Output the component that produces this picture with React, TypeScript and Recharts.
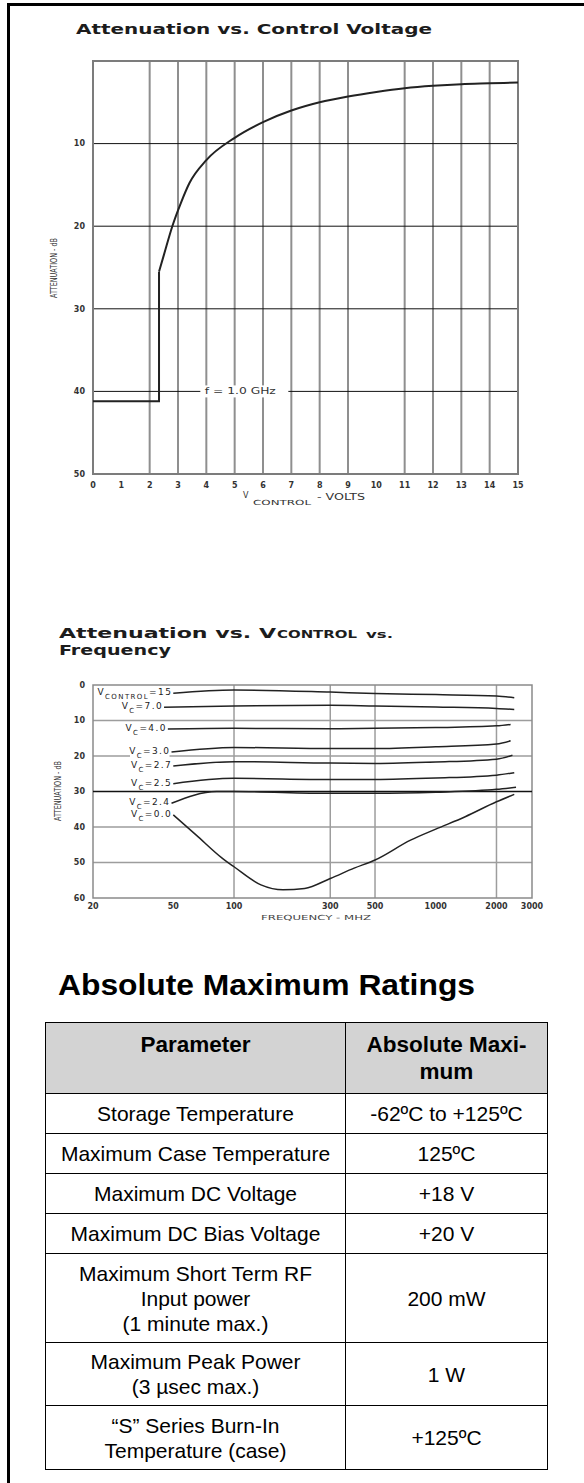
import React from 'react';
import { LineChart, Line, XAxis, YAxis, CartesianGrid, ReferenceLine, ReferenceArea, ReferenceDot } from 'recharts';

// ---------- Chart 1: Attenuation vs. Control Voltage ----------
const voltTicks = [0, 1, 2, 3, 4, 5, 6, 7, 8, 9, 10, 11, 12, 13, 14, 15];
const voltGridLines = [2, 3, 4, 5, 6, 7, 8, 9, 11, 12, 13, 14];
const atten1Ticks = [10, 20, 30, 40, 50];
const atten1GridLines = [10, 20, 30, 40];
const stepVolts = [0, 2.33, 2.33];
const stepAtten = [41.2, 41.2, 25.5];
const curveVolts = [2.33, 2.5, 2.8, 3.1, 3.4, 4, 5, 6, 7, 8, 9, 10, 11, 12, 13, 14, 15];
const curveAtten = [25.5, 23.5, 20, 17.2, 14.8, 12, 9.3, 7.4, 6, 5, 4.3, 3.75, 3.3, 3.0, 2.8, 2.7, 2.6];
const annotVolt = 5.2;
const annotAtten = 40;
const annotText = 'f = 1.0 GHz';

// ---------- Chart 2: Attenuation vs. VCONTROL vs. Frequency ----------
const freqTicks = [20, 50, 100, 300, 500, 1000, 2000, 3000];
const freqGridLines = [100, 300, 500, 2000];
const atten2Ticks = [0, 10, 20, 30, 40, 50, 60];
const atten2GridLines = [10, 20, 40, 50];
const atten2DarkLine = 30;

const vc15Freq = [50, 100, 300, 500, 1000, 2000, 2450];
const vc15Atten = [2.3, 1.4, 2.0, 2.4, 2.7, 3.1, 3.6];
const vc70Freq = [45, 100, 300, 500, 1000, 2000, 2450];
const vc70Atten = [6.3, 5.9, 5.7, 5.9, 6.2, 6.6, 6.9];
const vc40Freq = [47, 100, 300, 500, 1000, 2000, 2350];
const vc40Atten = [12.4, 12.2, 12.3, 12.2, 12.0, 11.5, 11.1];
const vc30Freq = [49, 100, 300, 500, 1000, 2000, 2350];
const vc30Atten = [18.9, 17.6, 17.9, 17.9, 17.4, 16.6, 15.7];
const vc27Freq = [50, 100, 300, 500, 1000, 2000, 2400];
const vc27Atten = [22.8, 21.6, 22.0, 22.1, 21.7, 20.9, 19.8];
const vc25Freq = [50, 100, 300, 500, 1000, 2000, 2450];
const vc25Atten = [27.8, 26.3, 26.6, 26.6, 26.2, 25.4, 24.7];
const vc24Freq = [49, 82, 100, 300, 500, 1000, 2000, 2500];
const vc24Atten = [33.3, 30.0, 30.0, 30.5, 30.5, 30.2, 29.4, 28.8];
const vc00Freq = [50, 65, 87, 100, 136, 175, 224, 300, 394, 500, 750, 1000, 1400, 2000, 2450];
const vc00Atten = [36.6, 42.3, 48.7, 51.2, 56.3, 57.7, 57.3, 54.5, 51.6, 49.3, 43.7, 40.6, 37.1, 32.9, 30.8];

const vcSubs = ['CONTROL', 'C', 'C', 'C', 'C', 'C', 'C', 'C'];
const vcValues = ['=15', '=7.0', '=4.0', '=3.0', '=2.7', '=2.5', '=2.4', '=0.0'];

// ---------- Table ----------
const tableHeaders = ['Parameter', 'Absolute Maxi-\nmum'];
const tableParams = [
  'Storage Temperature',
  'Maximum Case Temperature',
  'Maximum DC Voltage',
  'Maximum DC Bias Voltage',
  'Maximum Short Term RF\nInput power\n(1 minute max.)',
  'Maximum Peak Power\n(3 µsec max.)',
  '\u201CS\u201D Series Burn-In\nTemperature (case)',
];
const tableValues = ['-62ºC to +125ºC', '125ºC', '+18 V', '+20 V', '200 mW', '1 W', '+125ºC'];
const tableRowHeights = [40, 40, 40, 40, 89, 63, 64];

const zip = (xs: number[], ys: number[], kx: string) => xs.map((x, i) => ({ [kx]: x, a: ys[i] }));

const stepData = zip(stepVolts, stepAtten, 'v');
const curveData = zip(curveVolts, curveAtten, 'v');

const series2 = [
  zip(vc15Freq, vc15Atten, 'f'),
  zip(vc70Freq, vc70Atten, 'f'),
  zip(vc40Freq, vc40Atten, 'f'),
  zip(vc30Freq, vc30Atten, 'f'),
  zip(vc27Freq, vc27Atten, 'f'),
  zip(vc25Freq, vc25Atten, 'f'),
  zip(vc24Freq, vc24Atten, 'f'),
  zip(vc00Freq, vc00Atten, 'f'),
];

const tickStyle = { fontSize: 8, fontWeight: 'bold' as const, fill: '#333', fontFamily: 'DejaVu Sans' };

const makeLabelDot = (sub: string, val: string) => (props: any) => {
  const { cx, cy, index } = props;
  if (index !== 0 || cx == null || cy == null) return <g key={`d-${index}`} />;
  const w = 6.5 + sub.length * 5.8 + val.length * 6.8;
  return (
    <g key={`lbl-${index}`}>
      <rect x={cx - w - 2} y={cy - 6} width={w} height={12} fill="#fff" />
      <text x={cx - 1} y={cy + 2} textAnchor="end" fontSize={9} fontFamily="DejaVu Sans" fill="#222" letterSpacing={1.4}>
        <tspan>V</tspan>
        <tspan fontSize={7} dy={4}>{sub}</tspan>
        <tspan dy={-4}>{val}</tspan>
      </text>
    </g>
  );
};

function Chart1() {
  return (
    <div style={{ position: 'absolute', left: 0, top: 0 }}>
      <LineChart width={584} height={520} margin={{ top: 61, right: 66, bottom: 26, left: 63 }}>
        <XAxis type="number" dataKey="v" domain={[0, 15]} ticks={voltTicks} interval={0} tickLine={false} axisLine={false} height={20} tick={tickStyle} />
        <YAxis type="number" dataKey="a" domain={[0, 50]} reversed ticks={atten1Ticks} interval={0} tickLine={false} axisLine={false} width={30} tick={tickStyle} />
        <CartesianGrid horizontal={false} verticalValues={voltGridLines} stroke="#8f8f8f" strokeWidth={2} />
        <CartesianGrid vertical={false} horizontalValues={atten1GridLines} stroke="#111" strokeWidth={1} />
        <ReferenceArea x1={0} x2={15} y1={0} y2={50} fill="none" fillOpacity={0} stroke="#7c7c7c" strokeWidth={2} />
        <ReferenceDot
          x={annotVolt}
          y={annotAtten}
          shape={(p: any) => (
            <g>
              <rect x={p.cx - 40} y={p.cy - 6} width={88} height={12} fill="#fff" />
              <text x={p.cx} y={p.cy + 3} textAnchor="middle" fontSize={8} fontFamily="DejaVu Sans" fill="#333" textLength={71} lengthAdjust="spacingAndGlyphs">{annotText}</text>
            </g>
          )}
        />
        <Line data={stepData} dataKey="a" type="linear" stroke="#222" strokeWidth={2} dot={false} isAnimationActive={false} />
        <Line data={curveData} dataKey="a" type="monotone" stroke="#222" strokeWidth={2} dot={false} isAnimationActive={false} />
      </LineChart>
    </div>
  );
}

function Chart2() {
  return (
    <div style={{ position: 'absolute', left: 0, top: 600 }}>
      <LineChart width={584} height={340} margin={{ top: 85, right: 52, bottom: 22, left: 63 }}>
        <XAxis type="number" dataKey="f" scale="log" domain={[20, 3000]} ticks={freqTicks} interval={0} tickLine={false} tickSize={3} axisLine={false} height={20} tick={tickStyle} />
        <YAxis type="number" dataKey="a" domain={[0, 60]} reversed ticks={atten2Ticks} interval={0} tickLine={false} axisLine={false} width={30} tick={tickStyle} />
        <CartesianGrid verticalValues={freqGridLines} horizontalValues={atten2GridLines} stroke="#9d9d9d" strokeWidth={1.5} />
        <ReferenceLine y={atten2DarkLine} stroke="#111" strokeWidth={1.5} />
        <ReferenceArea x1={20} x2={3000} y1={0} y2={60} fill="none" fillOpacity={0} stroke="#8a8a8a" strokeWidth={1.5} />
        {series2.map((d, i) => (
          <Line key={i} data={d} dataKey="a" type="monotone" stroke="#222" strokeWidth={1.5} dot={makeLabelDot(vcSubs[i], vcValues[i])} isAnimationActive={false} />
        ))}
      </LineChart>
    </div>
  );
}

function Overlay() {
  const t = { fontFamily: 'DejaVu Sans', fill: '#1c1c1c' };
  return (
    <svg width={584} height={1483} style={{ position: 'absolute', left: 0, top: 0, pointerEvents: 'none' }}>
      {/* chart 1 title */}
      <text x={76} y={34} {...t} fontWeight="bold" fontSize={14} textLength={356} lengthAdjust="spacingAndGlyphs">Attenuation vs. Control Voltage</text>
      {/* chart 1 y label */}
      <text transform="translate(57,268) rotate(-90)" textAnchor="middle" fontSize={8} {...t} fill="#333" textLength={60} lengthAdjust="spacingAndGlyphs">ATTENUATION - dB</text>
      {/* chart 1 x label */}
      <text x={243} y={498} fontSize={8} {...t} fill="#333">V</text>
      <text x={253} y={505} fontSize={7} {...t} fill="#333" textLength={58} lengthAdjust="spacingAndGlyphs">CONTROL</text>
      <text x={317} y={500} fontSize={8} {...t} fill="#333" textLength={48} lengthAdjust="spacingAndGlyphs">- VOLTS</text>
      {/* chart 2 title */}
      <text x={59} y={638} {...t} fontWeight="bold" fontSize={14} textLength={217} lengthAdjust="spacingAndGlyphs">Attenuation vs. V</text>
      <text x={277} y={638} {...t} fontWeight="bold" fontSize={10.5} textLength={80} lengthAdjust="spacingAndGlyphs">CONTROL</text>
      <text x={366} y={638} {...t} fontWeight="bold" fontSize={10.5} textLength={27} lengthAdjust="spacingAndGlyphs">vs.</text>
      <text x={59} y={655} {...t} fontWeight="bold" fontSize={14} textLength={112} lengthAdjust="spacingAndGlyphs">Frequency</text>
      {/* chart 2 y label */}
      <text transform="translate(61,791) rotate(-90)" textAnchor="middle" fontSize={8} {...t} fill="#333" textLength={60} lengthAdjust="spacingAndGlyphs">ATTENUATION - dB</text>
      {/* chart 2 x label */}
      <text x={261} y={920} fontSize={7} {...t} fill="#444" textLength={110} lengthAdjust="spacingAndGlyphs">FREQUENCY - MHZ</text>
      {/* table heading */}
      <text x={58} y={995} fontFamily="Liberation Sans, Arial" fontWeight="bold" fontSize={29} fill="#000" textLength={417} lengthAdjust="spacingAndGlyphs">Absolute Maximum Ratings</text>
    </svg>
  );
}

function RatingsTable() {
  const border = '1.5px solid #000';
  const cell: React.CSSProperties = { border, textAlign: 'center', padding: 0, fontSize: 21, lineHeight: '25px', verticalAlign: 'middle', whiteSpace: 'pre-line' };
  const head: React.CSSProperties = { ...cell, background: '#d3d3d3', fontWeight: 'bold', fontSize: 22.5, lineHeight: '27px', verticalAlign: 'top', paddingTop: 8 };
  return (
    <table
      style={{
        position: 'absolute', left: 45, top: 1022, width: 502, borderCollapse: 'collapse',
        fontFamily: 'Liberation Sans, Arial, sans-serif', color: '#000', tableLayout: 'fixed',
      }}
    >
      <colgroup>
        <col style={{ width: 300 }} />
        <col style={{ width: 202 }} />
      </colgroup>
      <tbody>
        <tr style={{ height: 70 }}>
          {tableHeaders.map((h, i) => (
            <td key={i} style={{ ...head, height: 62 }}>{h}</td>
          ))}
        </tr>
        {tableParams.map((p, i) => (
          <tr key={i} style={{ height: tableRowHeights[i] }}>
            <td style={cell}>{p}</td>
            <td style={cell}>{tableValues[i]}</td>
          </tr>
        ))}
      </tbody>
    </table>
  );
}

export default function App() {
  return (
    <div style={{ position: 'absolute', left: 0, top: 0, width: 584, height: 1483, background: '#fff', overflow: 'hidden' }}>
      <div style={{ position: 'absolute', left: 7, top: 3, width: 577, height: 3, background: '#000' }} />
      <div style={{ position: 'absolute', left: 7, top: 3, width: 3, height: 1480, background: '#000' }} />
      <Chart1 />
      <Chart2 />
      <RatingsTable />
      <Overlay />
    </div>
  );
}
